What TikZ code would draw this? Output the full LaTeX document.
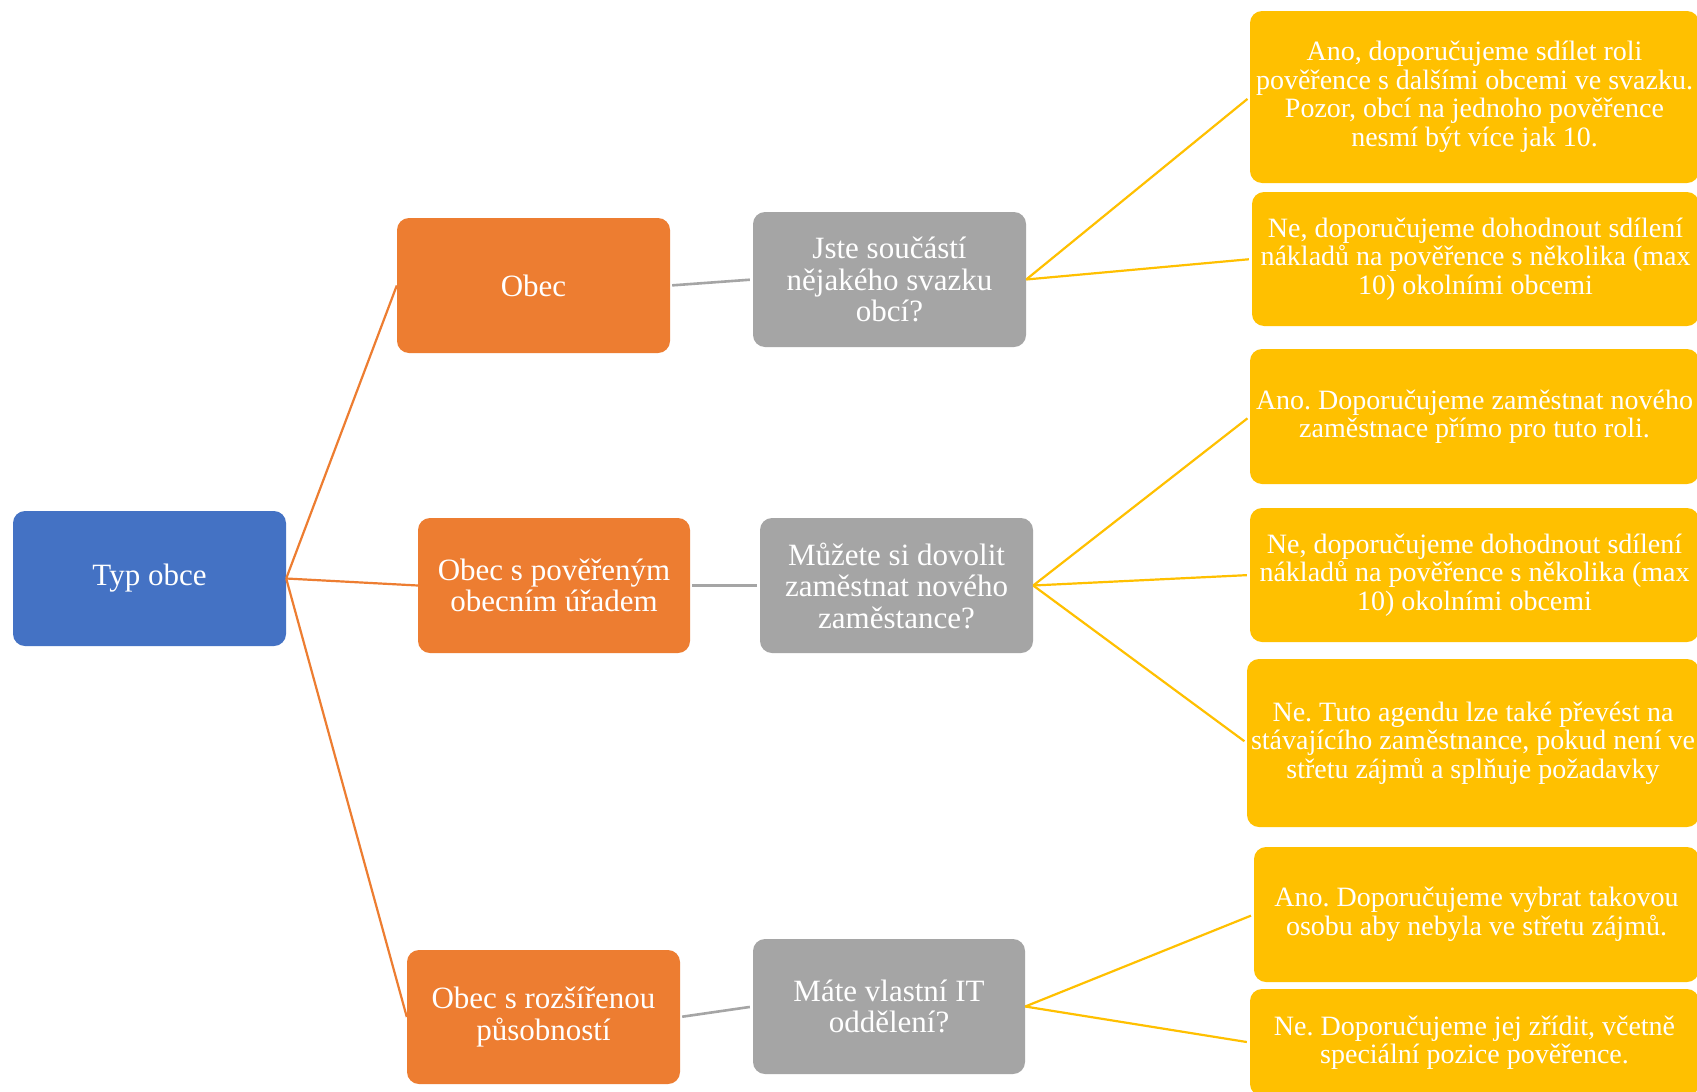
\documentclass[tikz,border=0pt]{standalone}
\usepackage{fontspec}
\setmainfont{Liberation Serif}
\frenchspacing
\definecolor{cblue}{HTML}{4472C4}
\definecolor{corange}{HTML}{ED7D31}
\definecolor{cgray}{HTML}{A5A5A5}
\definecolor{cyellow}{HTML}{FFC000}
\tikzset{
  box/.style={rounded corners=12pt, inner sep=0pt, align=center, text=white},
  midfont/.style={font=\fontsize{31}{31.5}\selectfont},
  rfont/.style={font=\fontsize{28}{28.5}\selectfont},
  bluebox/.style={box, fill=cblue, midfont},
  orbox/.style={box, fill=corange, midfont},
  grbox/.style={box, fill=cgray, midfont},
  yebox/.style={box, fill=cyellow, rfont},
  oline/.style={draw=corange, line width=2.2pt},
  gline/.style={draw=cgray, line width=2.6pt, shorten <=2pt, shorten >=3pt},
  yline/.style={draw=cyellow, line width=2.2pt, shorten >=3pt}
}
\begin{document}
\begin{tikzpicture}[x=1pt,y=-1pt]
\useasboundingbox (0,0) rectangle (1697,1092);
\fill[white] (0,0) rectangle (1697,1092);

\node[bluebox, minimum width=273pt, minimum height=135pt] (typ) at (149.5,578.5) {Typ obce};

\node[orbox, minimum width=273pt, minimum height=135pt] (obec) at (533.5,285.5) {Obec};
\node[orbox, minimum width=272pt, minimum height=135pt] (opou) at (554,585.5) {Obec s pověřeným\\obecním úřadem};
\node[orbox, minimum width=273pt, minimum height=134pt] (orp) at (543.5,1017) {Obec s rozšířenou\\působností};

\node[grbox, minimum width=273pt, minimum height=135pt] (jste) at (889.5,279.5) {Jste součástí\\nějakého svazku\\obcí?};
\node[grbox, minimum width=273pt, minimum height=135pt] (muz) at (896.5,585.5) {Můžete si dovolit\\zaměstnat nového\\zaměstance?};
\node[grbox, minimum width=272pt, minimum height=135pt] (mate) at (889,1006.5) {Máte vlastní IT\\oddělení?};

\node[yebox, minimum width=449pt, minimum height=172pt] (r1) at (1474.5,97) {Ano, doporučujeme sdílet roli\\pověřence s dalšími obcemi ve svazku.\\Pozor, obcí na jednoho pověřence\\nesmí být více jak 10.};
\node[yebox, minimum width=447pt, minimum height=134pt] (r2) at (1475.5,259) {Ne, doporučujeme dohodnout sdílení\\nákladů na pověřence s několika (max\\10) okolními obcemi};
\node[yebox, minimum width=449pt, minimum height=135pt] (r3) at (1474.5,416.5) {Ano. Doporučujeme zaměstnat nového\\zaměstnace přímo pro tuto roli.};
\node[yebox, minimum width=449pt, minimum height=134pt] (r4) at (1474.5,575) {Ne, doporučujeme dohodnout sdílení\\nákladů na pověřence s několika (max\\10) okolními obcemi};
\node[yebox, minimum width=452pt, minimum height=168pt] (r5) at (1473,743) {Ne. Tuto agendu lze také převést na\\stávajícího zaměstnance, pokud není ve\\střetu zájmů a splňuje požadavky};
\node[yebox, minimum width=445pt, minimum height=135pt] (r6) at (1476.5,914.5) {Ano. Doporučujeme vybrat takovou\\osobu aby nebyla ve střetu zájmů.};
\node[yebox, minimum width=449pt, minimum height=107pt] (r7) at (1474.5,1042.5) {Ne. Doporučujeme jej zřídit, včetně\\speciální pozice pověřence.};

\draw[oline] (typ.east) -- (obec.west);
\draw[oline] (typ.east) -- (opou.west);
\draw[oline] (typ.east) -- (orp.west);

\draw[gline] (obec.east) -- (jste.west);
\draw[gline] (opou.east) -- (muz.west);
\draw[gline] (orp.east) -- (mate.west);

\draw[yline] (jste.east) -- (r1.west);
\draw[yline] (jste.east) -- (r2.west);
\draw[yline] (muz.east) -- (r3.west);
\draw[yline] (muz.east) -- (r4.west);
\draw[yline] (muz.east) -- (r5.west);
\draw[yline] (mate.east) -- (r6.west);
\draw[yline] (mate.east) -- (r7.west);
\end{tikzpicture}
\end{document}
